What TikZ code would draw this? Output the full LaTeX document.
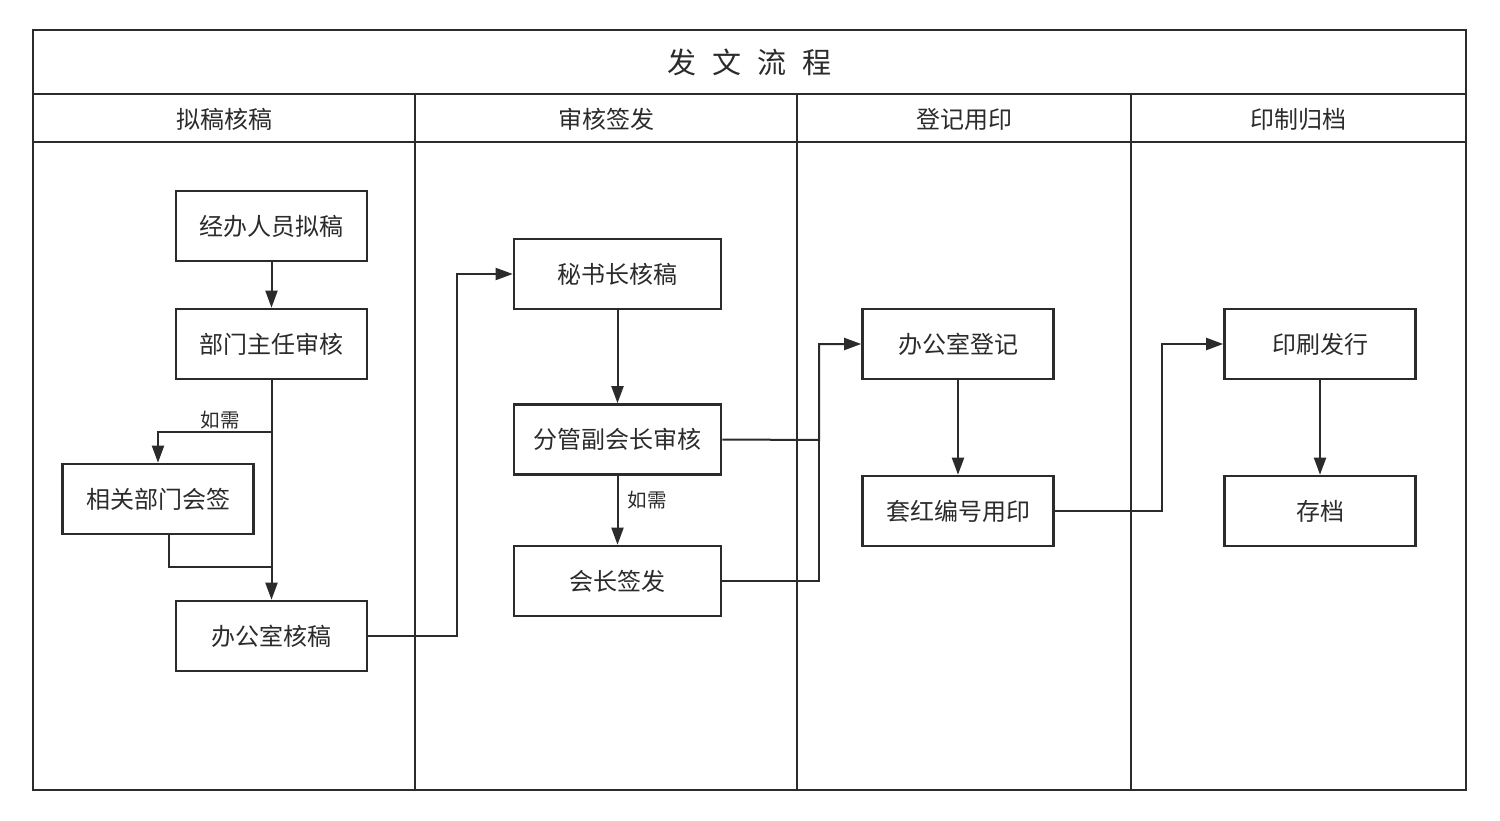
\documentclass[tikz,border=0pt]{standalone}
\usepackage{fontspec}
\setmainfont{Noto Sans CJK SC}
\usetikzlibrary{arrows.meta}
\definecolor{ink}{HTML}{2B2B2B}
\begin{document}
\begin{tikzpicture}[x=1pt,y=-1pt,
  frame/.style={draw=ink,line width=2.8pt},
  stepbox/.style={draw=ink,line width=2.6pt,minimum width=191pt,minimum height=70pt,inner sep=0pt,font=\fontsize{24}{27}\selectfont,text=ink},
  widebox/.style={stepbox,minimum width=207pt},
  lanehead/.style={font=\fontsize{24}{27}\selectfont,text=ink},
  conn/.style={draw=ink,line width=2pt},
  arr/.style={conn,-{Triangle[length=17pt,width=12pt]}},
  note/.style={font=\fontsize{19.5}{22}\selectfont,text=ink}]
\useasboundingbox (0,0) rectangle (1500,821);
\fill[white] (0,0) rectangle (1500,821);
% frame
\draw[frame] (33,30) rectangle (1466,790);
\draw[frame] (33,94) -- (1466,94);
\draw[frame] (33,142) -- (1466,142);
\draw[frame] (415,94) -- (415,790);
\draw[frame] (797,94) -- (797,790);
\draw[frame] (1131,94) -- (1131,790);
\node[font=\fontsize{29}{32}\selectfont,text=ink] (title) at (749.5,62) {发\hspace{0.55em}文\hspace{0.55em}流\hspace{0.55em}程};
\node[lanehead] (h1) at (224,119) {拟稿核稿};
\node[lanehead] (h2) at (606,119) {审核签发};
\node[lanehead] (h3) at (964,119) {登记用印};
\node[lanehead] (h4) at (1298,119) {印制归档};
% boxes
\node[stepbox] (jb) at (271.5,226) {经办人员拟稿};
\node[stepbox] (bm) at (271.5,344) {部门主任审核};
\node[stepbox] (xg) at (158,499) {相关部门会签};
\node[stepbox] (bg) at (271.5,636) {办公室核稿};
\node[widebox] (ms) at (617.5,274) {秘书长核稿};
\node[widebox] (fg) at (617.5,439.5) {分管副会长审核};
\node[widebox] (hz) at (617.5,581) {会长签发};
\node[stepbox] (dj) at (958,344) {办公室登记};
\node[stepbox] (th) at (958,511) {套红编号用印};
\node[stepbox] (ys) at (1320,344) {印刷发行};
\node[stepbox] (cd) at (1320,511) {存档};
% connectors
\coordinate (jc) at (271.5,432);
\coordinate (rt) at (271.5,567);
\coordinate (k1) at (457,636);
\coordinate (k2) at (819,440);
\coordinate (k3) at (819,581);
\coordinate (k4) at (1162,511);
\draw[arr] (jb) -- (bm);
\draw[arr] (bm) -- (bg);
\draw[arr] (jc) -| (xg.north);
\node[note] (n1) at (220,420) {如需};
\draw[conn] (xg.south -| 169,0) |- (rt);
\draw[arr] (bg.east) -- (k1) |- (ms.west);
\draw[arr] (ms) -- (fg);
\draw[arr] (fg) -- (hz);
\node[note] (n2) at (647,500) {如需};
\draw[arr] (fg.east) -- (k2) |- (dj.west);
\draw[conn] (hz.east) -- (k3) -- (k2);
\draw[arr] (dj) -- (th);
\draw[arr] (th.east) -- (k4) |- (ys.west);
\draw[arr] (ys) -- (cd);
\end{tikzpicture}
\end{document}
